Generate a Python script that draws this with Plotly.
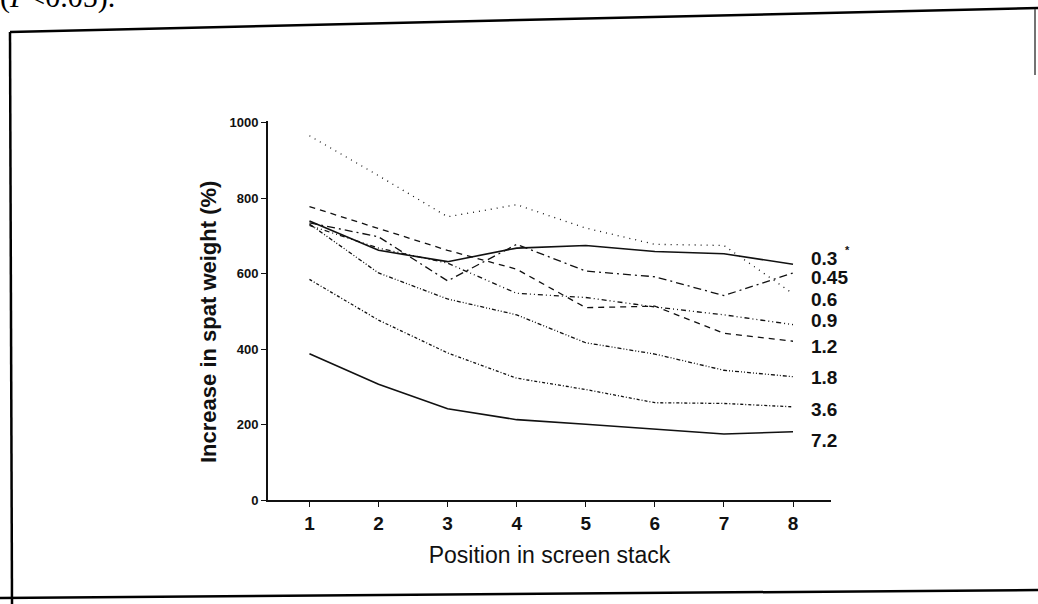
import plotly.graph_objects as go

# Screen stack positions
positions = [1, 2, 3, 4, 5, 6, 7, 8]

# Increase in spat weight (%) for each treatment level
series_names = ["0.3", "0.45", "0.6", "0.9", "1.2", "1.8", "3.6", "7.2"]
v_03 = [740, 662, 632, 668, 675, 659, 653, 625]
v_045 = [735, 698, 581, 678, 607, 592, 542, 602]
v_06 = [966, 860, 751, 783, 721, 678, 675, 547]
v_09 = [728, 668, 628, 548, 537, 512, 491, 465]
v_12 = [778, 720, 662, 612, 510, 514, 442, 421]
v_18 = [732, 602, 533, 491, 417, 387, 344, 327]
v_36 = [585, 477, 390, 323, 293, 258, 256, 247]
v_72 = [388, 307, 242, 213, 201, 189, 175, 181]

# End-of-line label heights (in axis units)
label_y = [640, 589, 533, 475, 406, 326, 239, 159]

y_ticks = [0, 200, 400, 600, 800, 1000]

values = [v_03, v_045, v_06, v_09, v_12, v_18, v_36, v_72]
dashes = [
    "solid",
    "8px,4px,2px,4px",
    "1px,5px",
    "5px,3px,1px,3px,1px,3px",
    "6px,5px",
    "4px,2px,1px,2px,1px,2px",
    "3px,2px,1px,2px",
    "solid",
]
widths = [1.6, 1.3, 1.3, 1.3, 1.3, 1.3, 1.3, 1.6]

fig = go.Figure()
for name, vals, dash, w in zip(series_names, values, dashes, widths):
    fig.add_trace(go.Scatter(
        x=positions, y=vals, mode="lines", name=name,
        line=dict(color="#111111", width=w, dash=dash),
        showlegend=False, hoverinfo="skip",
    ))

# Plot area geometry (pixels) used for the paper-coordinate helpers
L, R, T, B = 268, 831, 121, 500
W, H = 1038, 604


def px(x):
    return (x - L) / (R - L)


def py(y):
    return (B - y) / (B - T)


annotations = []
for name, yv in zip(series_names, label_y):
    annotations.append(dict(
        x=px(809), xref="paper", y=yv, yref="y", text=f"<b>{name}</b>",
        showarrow=False, xanchor="left", yanchor="middle",
        font=dict(family="Liberation Sans, Arial", size=19, color="#111111"),
    ))
annotations.append(dict(
    x=px(843), xref="paper", y=py(250), yref="paper", text="<b>*</b>",
    showarrow=False, xanchor="left", yanchor="middle",
    font=dict(family="Liberation Sans, Arial", size=11, color="#111111"),
))
# Vertical axis title
annotations.append(dict(
    x=px(208), xref="paper", y=py(322), yref="paper",
    text="<b>Increase in spat weight (%)</b>", textangle=-90,
    showarrow=False, xanchor="center", yanchor="middle",
    font=dict(family="Liberation Sans, Arial", size=22, color="#111111"),
))
annotations.append(dict(
    x=px(-2), xref="paper", y=py(16), yref="paper",
    text="(<i>P</i><0.05).", showarrow=False, xanchor="left", yanchor="bottom",
    font=dict(family="Liberation Serif, Times New Roman", size=30, color="#000000"),
))

# Outer frame around the figure panel
frame = dict(color="#000000", width=2.5)
shapes = [
    dict(type="line", xref="paper", yref="paper", x0=px(10), y0=py(32), x1=px(1038), y1=py(8), line=frame),
    dict(type="line", xref="paper", yref="paper", x0=px(10), y0=py(32), x1=px(12), y1=py(604), line=frame),
    dict(type="line", xref="paper", yref="paper", x0=px(0), y0=py(598), x1=px(1038), y1=py(590), line=frame),
    dict(type="line", xref="paper", yref="paper", x0=px(1035), y0=py(9), x1=px(1035), y1=py(75),
         line=dict(color="#444444", width=1.5)),
]

fig.update_layout(
    width=W, height=H,
    margin=dict(l=L, r=W - R, t=T, b=H - B, pad=0),
    paper_bgcolor="white", plot_bgcolor="white",
    annotations=annotations, shapes=shapes,
    xaxis=dict(
        range=[0.4, 8.55], tickvals=positions, ticktext=[f"<b>{p}</b>" for p in positions],
        showgrid=False, zeroline=False, showline=True, linecolor="#111111", linewidth=2,
        ticks="outside", ticklen=5, tickwidth=1.2, tickcolor="#111111",
        tickfont=dict(family="Liberation Sans, Arial", size=19, color="#111111"),
        title=dict(text="Position in screen stack", standoff=14,
                   font=dict(family="Liberation Sans, Arial", size=23, color="#111111")),
    ),
    yaxis=dict(
        range=[0, 1005], tickvals=y_ticks, ticktext=[f"<b>{t}</b>" for t in y_ticks],
        showgrid=False, zeroline=False, showline=True, linecolor="#111111", linewidth=2,
        ticks="outside", ticklen=5, tickwidth=1.2, tickcolor="#111111",
        tickfont=dict(family="Liberation Sans, Arial", size=13, color="#111111"),
    ),
)

fig.write_html("out.html")
